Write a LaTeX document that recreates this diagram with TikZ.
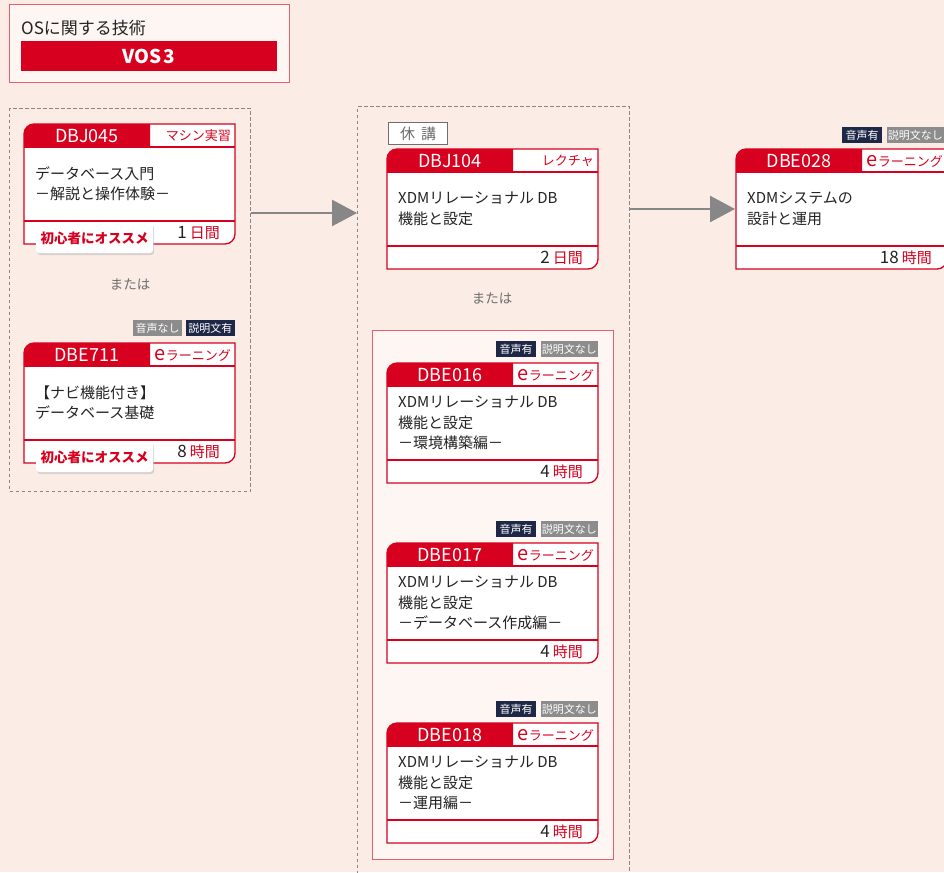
\documentclass[tikz,border=0pt]{standalone}
\usepackage{fontspec}
\setmainfont{Noto Sans CJK JP}
\usetikzlibrary{arrows.meta,shadows}

\definecolor{bgc}{RGB}{251,236,229}
\definecolor{paper}{RGB}{253,246,243}
\definecolor{jred}{RGB}{215,0,30}
\definecolor{pinkline}{RGB}{230,95,110}
\definecolor{dashgray}{RGB}{135,135,135}
\definecolor{navy}{RGB}{30,40,70}
\definecolor{taggray}{RGB}{140,140,140}
\definecolor{txt}{RGB}{35,35,35}
\definecolor{softgray}{RGB}{110,110,110}

\tikzset{
  cardline/.style={draw=jred, line width=1.3pt},
  idtext/.style={text=white, font=\fontsize{18}{18}\selectfont, inner sep=0pt},
  typetext/.style={text=jred, font=\fontsize{13}{13}\selectfont, inner sep=0pt},
  bodytext/.style={text=txt, font=\fontsize{15}{20.5}\selectfont, align=left, inner sep=0pt},
  durtext/.style={text=txt, inner sep=0pt},
  badge/.style={fill=white, rounded corners=3pt, minimum width=117pt, minimum height=30pt,
    inner sep=0pt, text=jred, font=\fontsize{13.5}{13.5}\selectfont\bfseries,
    drop shadow={shadow xshift=1.2pt, shadow yshift=-2pt, fill=black!25, opacity=0.6}},
  tagbox/.style={text=white, minimum height=16pt, inner sep=0pt, font=\fontsize{11}{11}\selectfont},
  plusmark/.style={text=white, inner sep=0pt, font=\fontsize{6}{6}\selectfont},
  groupbox/.style={draw=dashgray, line width=1.4pt, dash pattern=on 3.5pt off 2.5pt},
  flowarrow/.style={draw=dashgray, line width=2.5pt, -{Triangle[length=25pt,width=26pt]}},
  ortext/.style={text=softgray, font=\fontsize{13.5}{13.5}\selectfont},
}

% name, x, y, id, type, body, number, unit
\newcommand\card[8]{%
  \fill[white] (#2,#3+120) -- (#2,#3+10) arc[start angle=180,end angle=90,radius=10pt]
     -- (#2+211,#3) -- (#2+211,#3+110) arc[start angle=0,end angle=-90,radius=10pt] -- cycle;
  \fill[jred] (#2,#3+23) -- (#2,#3+10) arc[start angle=180,end angle=90,radius=10pt]
     -- (#2+126,#3) -- (#2+126,#3+23) -- cycle;
  \draw[cardline] (#2,#3+120) -- (#2,#3+10) arc[start angle=180,end angle=90,radius=10pt]
     -- (#2+211,#3) -- (#2+211,#3+110) arc[start angle=0,end angle=-90,radius=10pt] -- cycle;
  \draw[cardline] (#2,#3+23) -- (#2+211,#3+23);
  \draw[cardline] (#2,#3+97) -- (#2+211,#3+97);
  \node[idtext] (#1-id) at (#2+63,#3+12) {#4};
  \node[typetext, anchor=east] (#1-type) at (#2+207,#3+12) {#5};
  \node[bodytext, anchor=west] (#1-body) at (#2+11,#3+60) {#6};
  \node[durtext, anchor=east] (#1-dur) at (#2+196,#3+109)
     {{\fontsize{17}{17}\selectfont #7}\hspace{3pt}{\color{jred}\fontsize{15}{15}\selectfont #8}};
}
\newcommand\elearn{{\fontsize{20}{13}\selectfont e}ラーニング}
% tags: voice yes + no text ; name, right x, top y
\newcommand\tagsA[3]{%
  \node[tagbox, fill=navy, minimum width=40pt, anchor=north west] (#1-a) at (#2-102,#3) {音声有};
  \node[tagbox, fill=taggray, minimum width=57pt, anchor=north east] (#1-b) at (#2,#3) {説明文なし};
  \node[plusmark] (#1-p) at (#2-59.5,#3+8.5) {+};
}
\newcommand\tagsB[3]{%
  \node[tagbox, fill=taggray, minimum width=49pt, anchor=north west] (#1-a) at (#2-102,#3) {音声なし};
  \node[tagbox, fill=navy, minimum width=49pt, anchor=north east] (#1-b) at (#2,#3) {説明文有};
  \node[plusmark] (#1-p) at (#2-51,#3+8.5) {+};
}

\begin{document}
\begin{tikzpicture}[x=1pt,y=-1pt]
\useasboundingbox (0,0) rectangle (944,872);
\clip (0,0) rectangle (944,872);
\fill[bgc] (0,0) rectangle (944,872);

% title
\node[draw=pinkline, fill=paper, line width=1.2pt, minimum width=280pt, minimum height=78pt,
      anchor=north west, inner sep=0pt] (titlebox) at (9,4) {};
\node[anchor=west, inner sep=0pt, text=txt, font=\fontsize{17}{17}\selectfont] (ttl) at (21,28) {OSに関する技術};
\node[fill=jred, minimum width=256pt, minimum height=30pt, anchor=north west, inner sep=0pt,
      text=white, font=\fontsize{19}{19}\selectfont\bfseries] (vos) at (21,41) {VOS\hspace{2pt}3};

% groups
\node[groupbox, minimum width=241pt, minimum height=383pt, anchor=north west, inner sep=0pt] (grpA) at (9,108) {};
\node[groupbox, minimum width=272pt, minimum height=780pt, anchor=north west, inner sep=0pt] (grpB) at (357,106) {};
\node[draw=pinkline, fill=paper, line width=1.2pt, minimum width=241pt, minimum height=529pt,
      anchor=north west, inner sep=0pt] (redbox) at (372,330) {};

% left column
\card{dbj045}{24}{124}{DBJ045}{マシン実習}{データベース入門\\－解説と操作体験－}{1}{日間}
\node[badge] (dbj045-rec) at (94.5,238) {初心者にオススメ};
\node[ortext] (or1) at (130,284) {または};
\tagsB{dbe711t}{235}{320}
\card{dbe711}{24}{343}{DBE711}{\elearn}{【ナビ機能付き】\\データベース基礎}{8}{時間}
\node[badge] (dbe711-rec) at (94.5,457) {初心者にオススメ};

% middle column
\node[draw=softgray, fill=white, line width=1.1pt, minimum width=59pt, minimum height=22pt,
      anchor=north west, inner sep=0pt, text=softgray, font=\fontsize{15}{15}\selectfont] (kyuko) at (388,122) {休\hspace{6pt}講};
\card{dbj104}{387}{149}{DBJ104}{レクチャ}{XDMリレーショナル DB\\機能と設定}{2}{日間}
\node[ortext] (or2) at (492,298) {または};
\tagsA{dbe016t}{598}{341}
\card{dbe016}{387}{363}{DBE016}{\elearn}{XDMリレーショナル DB\\機能と設定\\－環境構築編－}{4}{時間}
\tagsA{dbe017t}{598}{521}
\card{dbe017}{387}{543}{DBE017}{\elearn}{XDMリレーショナル DB\\機能と設定\\－データベース作成編－}{4}{時間}
\tagsA{dbe018t}{598}{701}
\card{dbe018}{387}{723}{DBE018}{\elearn}{XDMリレーショナル DB\\機能と設定\\－運用編－}{4}{時間}

% right column
\tagsA{dbe028t}{944}{127}
\card{dbe028}{736}{149}{DBE028}{\elearn}{XDMシステムの\\設計と運用}{18}{時間}

% arrows
\coordinate (a1s) at (grpA.east |- 0,213);
\coordinate (a1e) at (grpB.west |- 0,213);
\draw[flowarrow] (a1s) -- (a1e);
\coordinate (a2s) at (grpB.east |- 0,209);
\coordinate (a2e) at (735,209);
\draw[flowarrow] (a2s) -- (a2e);
\end{tikzpicture}
\end{document}
